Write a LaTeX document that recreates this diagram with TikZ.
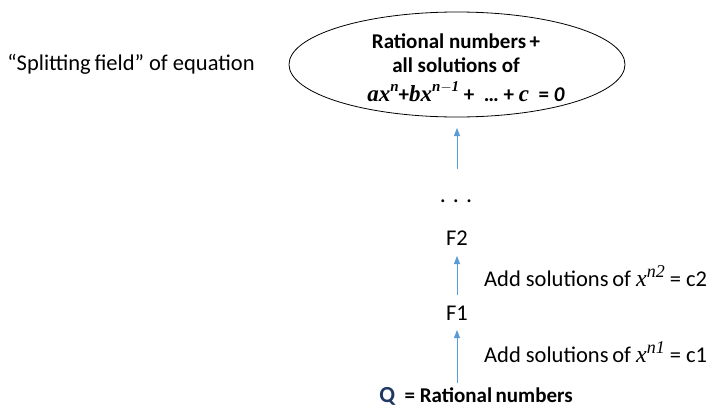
\documentclass[tikz,border=0pt]{standalone}
\usepackage{fontspec}
\setmainfont{Carlito}
\newfontfamily\mathserif{Liberation Serif}
\usetikzlibrary{shapes.geometric,arrows.meta}
\definecolor{arrowblue}{HTML}{5B9BD5}
\definecolor{qblue}{HTML}{1F3864}
\tikzset{
  lbl/.style={font=\fontsize{22.5}{24}\selectfont, inner sep=0pt, anchor=center},
  blbl/.style={font=\fontsize{21}{24}\selectfont\bfseries, inner sep=0pt, anchor=center},
  uparrow/.style={draw=arrowblue, line width=0.8pt, -{Triangle[length=8pt,width=6pt]}},
}
\newcommand{\supx}[1]{\raisebox{0.45em}{\fontsize{15}{15}\selectfont #1}}
\newcommand{\supy}[1]{\raisebox{0.42em}{\fontsize{18}{18}\selectfont #1}}
\newcommand{\vx}{{\mathserif\fontsize{24}{24}\selectfont\itshape x}}
\newcommand{\bm}[1]{{\mathserif\fontsize{23}{24}\selectfont\bfseries\itshape #1}}
\begin{document}
\begin{tikzpicture}[x=1pt,y=-1pt]
\useasboundingbox[fill=white] (0,0) rectangle (710,407);
\node[ellipse, draw, line width=0.8pt, minimum width=336pt, minimum height=105pt, inner sep=0pt] (top) at (457,64.5) {};
\node[blbl] (t1) at (456,41) {Rational numbers\,+};
\node[blbl] (t2) at (456,65) {all solutions of};
\node[blbl] (t3) at (466,92) {\bm{ax\supx{n}}+\bm{bx\supx{n$-$1}} +\ \ \dots\ + \bm{c}\ \ = \textit{0}};
\node[lbl] (split) at (131,64) {“Splitting\,field” of equation};
\node[lbl, font=\fontsize{24}{24}\selectfont, anchor=base] (dots) at (456,202) {.\hspace{7pt}.\hspace{7pt}.};
\node[lbl] (f2) at (457,238) {F2};
\node[lbl] (f1) at (457,313) {F1};
\node[blbl, anchor=base] (q) at (476,402) {\textcolor{qblue}{\fontsize{23}{24}\selectfont Q}\ \ = Rational\,numbers};
\node[lbl, anchor=west] (l2) at (484,276) {Add solutions\,of \vx\supy{\mathserif\itshape n2} = c2};
\node[lbl, anchor=west] (l1) at (484,352) {Add solutions\,of \vx\supy{\mathserif\itshape n1} = c1};
\coordinate (a1s) at (457,169);
\coordinate (a1e) at (457,128);
\coordinate (a2s) at (457,295);
\coordinate (a2e) at (457,256);
\coordinate (a3s) at (457,383);
\coordinate (a3e) at (457,330);
\draw[uparrow] (a1s) -- (a1e);
\draw[uparrow] (a2s) -- (a2e);
\draw[uparrow] (a3s) -- (a3e);
\end{tikzpicture}
\end{document}
